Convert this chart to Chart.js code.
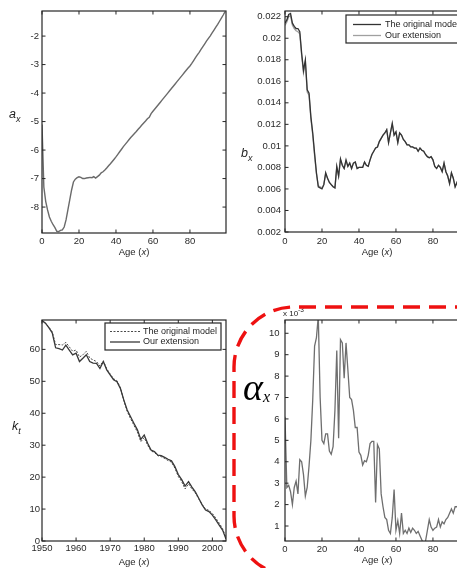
<!DOCTYPE html>
<html><head><meta charset="utf-8">
<script src="https://cdn.jsdelivr.net/npm/chart.js@4/dist/chart.umd.min.js"></script>
<style>
html,body{margin:0;padding:0;background:#fff;overflow:hidden;width:457px;height:568px}
#wrap{position:relative;width:457px;height:568px;overflow:hidden;background:#fff}
canvas{position:absolute}
</style></head><body><div id="wrap">
<canvas id="c1" width="240" height="265" style="left:0px;top:0px"></canvas>
<canvas id="c2" width="250" height="265" style="left:228px;top:0px"></canvas>
<canvas id="c3" width="240" height="268" style="left:0px;top:300px"></canvas>
<canvas id="c4" width="250" height="268" style="left:228px;top:300px"></canvas>
</div>
<script>
// ---------------- DATA ----------------
const ages = [0,1,2,3,4,5,6,7,8,9,10,11,12,13,14,15,16,17,18,19,20,21,22,23,24,25,26,27,28,29,30,31,32,33,34,35,36,37,38,39,40,41,42,43,44,45,46,47,48,49,50,51,52,53,54,55,56,57,58,59,60,61,62,63,64,65,66,67,68,69,70,71,72,73,74,75,76,77,78,79,80,81,82,83,84,85,86,87,88,89,90,91,92,93,94,95,96,97,98,99];
const axValues = [-5.1,-7.3,-7.8,-8.1,-8.35,-8.5,-8.62,-8.72,-8.85,-8.86,-8.82,-8.8,-8.7,-8.45,-8.1,-7.75,-7.4,-7.12,-7.02,-6.97,-6.94,-6.96,-7.0,-7.0,-6.98,-6.97,-6.96,-6.97,-6.93,-6.98,-6.93,-6.88,-6.8,-6.76,-6.7,-6.63,-6.55,-6.48,-6.4,-6.32,-6.24,-6.15,-6.06,-5.97,-5.88,-5.8,-5.72,-5.64,-5.56,-5.49,-5.42,-5.35,-5.27,-5.2,-5.12,-5.05,-4.98,-4.9,-4.85,-4.72,-4.64,-4.56,-4.48,-4.4,-4.32,-4.24,-4.16,-4.08,-4.0,-3.92,-3.84,-3.76,-3.68,-3.6,-3.52,-3.44,-3.36,-3.28,-3.2,-3.12,-3.05,-2.96,-2.86,-2.76,-2.66,-2.57,-2.47,-2.37,-2.27,-2.17,-2.08,-1.99,-1.89,-1.79,-1.69,-1.59,-1.48,-1.37,-1.26,-1.14];
const bxOriginal = [0.0214,0.0217,0.0222,0.0223,0.0214,0.0211,0.0209,0.0209,0.0206,0.0186,0.0170,0.0180,0.0152,0.0149,0.0127,0.0112,0.0093,0.0075,0.0062,0.0061,0.0060,0.0064,0.0075,0.0070,0.0066,0.0064,0.0062,0.0061,0.0081,0.0072,0.0088,0.0082,0.0079,0.0087,0.0081,0.0084,0.0079,0.0084,0.0085,0.0079,0.0080,0.0080,0.0080,0.0085,0.0082,0.0081,0.0087,0.0092,0.0095,0.0098,0.0099,0.0104,0.0107,0.0110,0.0112,0.0115,0.0103,0.0112,0.0121,0.0110,0.0113,0.0103,0.0112,0.0110,0.0106,0.0104,0.0101,0.0101,0.0099,0.0099,0.0098,0.0098,0.0095,0.0098,0.0096,0.0095,0.0092,0.0090,0.0089,0.0090,0.0087,0.0081,0.0079,0.0082,0.0080,0.0076,0.0084,0.0076,0.0072,0.0065,0.0075,0.0070,0.0062,0.0066,0.0060,0.0058,0.0055,0.0050,0.0047,0.0044];
const bxExtension = [0.0212,0.0215,0.0220,0.0221,0.0212,0.0209,0.0207,0.0206,0.0204,0.0184,0.0168,0.0178,0.0150,0.0147,0.0125,0.0110,0.0091,0.0074,0.0063,0.0062,0.0061,0.0064,0.0074,0.0070,0.0066,0.0064,0.0062,0.0061,0.0080,0.0072,0.0087,0.0082,0.0079,0.0086,0.0081,0.0084,0.0079,0.0084,0.0085,0.0079,0.0080,0.0080,0.0080,0.0085,0.0082,0.0081,0.0087,0.0092,0.0095,0.0098,0.0099,0.0104,0.0107,0.0110,0.0112,0.0115,0.0103,0.0112,0.0120,0.0110,0.0113,0.0103,0.0112,0.0110,0.0106,0.0104,0.0101,0.0101,0.0099,0.0099,0.0098,0.0098,0.0095,0.0098,0.0096,0.0095,0.0092,0.0090,0.0089,0.0090,0.0087,0.0081,0.0079,0.0082,0.0080,0.0076,0.0084,0.0076,0.0072,0.0065,0.0075,0.0070,0.0062,0.0066,0.0060,0.0058,0.0055,0.0050,0.0047,0.0044];
const years = [1950,1951,1952,1953,1954,1955,1956,1957,1958,1959,1960,1961,1962,1963,1964,1965,1966,1967,1968,1969,1970,1971,1972,1973,1974,1975,1976,1977,1978,1979,1980,1981,1982,1983,1984,1985,1986,1987,1988,1989,1990,1991,1992,1993,1994,1995,1996,1997,1998,1999,2000,2001,2002,2003,2004];
const ktOriginal = [69.2,68.3,67.0,65.5,61.5,61.5,61.4,62.2,60.8,59.4,59.8,57.6,58.3,59.4,57.3,56.7,56.2,54.8,56.4,53.9,52.3,50.8,50.2,48.0,44.0,40.6,38.3,36.2,34.1,31.1,32.4,30.0,28.2,27.7,26.7,26.4,25.8,25.2,24.7,22.8,20.2,18.6,16.3,17.9,16.3,15.0,13.2,11.4,10.0,9.6,8.6,7.2,5.6,3.9,0.8];
const ktExtension = [69.0,68.2,66.8,65.2,60.5,60.2,59.8,61.3,59.8,58.3,58.8,56.2,57.2,58.3,56.2,55.7,55.6,54.0,56.2,53.6,52.0,50.5,49.9,47.8,44.2,41.0,38.9,36.8,34.8,31.8,33.2,30.6,28.5,28.0,26.9,26.7,26.2,25.6,25.1,23.3,20.8,19.2,17.2,18.6,16.9,15.4,13.4,11.3,9.7,9.2,8.1,6.6,5.0,3.4,0.6];
const alphaValues = [6.1,2.8,2.9,2.6,2.0,2.8,3.1,2.5,4.1,4.0,3.4,2.4,2.8,3.8,5.0,6.9,9.4,9.8,10.8,7.0,5.0,4.85,5.3,5.3,4.5,4.35,4.7,6.4,9.2,5.1,9.7,9.55,7.9,9.55,8.3,7.0,6.9,6.4,5.6,5.6,4.45,4.3,3.85,4.05,4.0,4.3,4.85,4.95,4.95,2.1,4.8,4.6,2.5,1.9,1.4,1.3,0.8,0.65,1.4,2.7,0.8,1.25,0.65,1.6,0.65,0.8,0.65,0.9,0.7,0.9,0.8,0.65,0.75,0.55,0.35,0.15,0.3,0.8,1.3,0.95,0.8,0.9,0.95,1.3,0.95,1.2,1.1,1.3,1.4,1.6,1.8,1.6,1.9,1.9,2.0,1.85,2.1,2.3,2.2,2.5];
const ageTicks = [0,20,40,60,80];
const axTicks = [-8,-7,-6,-5,-4,-3,-2];
const bxTicks = [0.002,0.004,0.006,0.008,0.01,0.012,0.014,0.016,0.018,0.02,0.022];
const yearTicks = [1950,1960,1970,1980,1990,2000];
const ktTicks = [0,10,20,30,40,50,60];
const alphaTicks = [1,2,3,4,5,6,7,8,9,10];
const legendLabels = ['The original model','Our extension'];

// ---------------- HELPERS ----------------
const FONT = '"Liberation Sans", Arial, Helvetica, sans-serif';
const SERIF = '"Liberation Serif", "Times New Roman", serif';
const TICK = '#2a2a2a';
function pts(xs, ys){ return xs.map((x,i)=>({x:x, y:ys[i]})); }

function drawRich(ctx, parts, x, y, align){
  let w = 0;
  parts.forEach(p=>{ ctx.font = (p.italic?'italic ':'') + p.size + 'px ' + (p.family||FONT); p.w = ctx.measureText(p.t).width; w += p.w; });
  let cx = align === 'center' ? x - w/2 : x;
  parts.forEach(p=>{ ctx.font = (p.italic?'italic ':'') + p.size + 'px ' + (p.family||FONT); ctx.fillText(p.t, cx, y + (p.dy||0)); cx += p.w; });
}

function framePlugin(spec){
  return {
    id: 'frame_' + spec.name,
    afterDatasetsDraw(chart){
      const ctx = chart.ctx, a = chart.chartArea, xs = chart.scales.x, ys = chart.scales.y;
      ctx.save();
      ctx.strokeStyle = '#262626'; ctx.lineWidth = 1.2;
      ctx.strokeRect(a.left, a.top, a.right - a.left, a.bottom - a.top);
      ctx.lineWidth = 1;
      ctx.beginPath();
      xs.ticks.forEach(t=>{ const p = xs.getPixelForValue(t.value);
        ctx.moveTo(p, a.bottom); ctx.lineTo(p, a.bottom - 3.5);
        ctx.moveTo(p, a.top); ctx.lineTo(p, a.top + 3.5); });
      ys.ticks.forEach(t=>{ const p = ys.getPixelForValue(t.value);
        ctx.moveTo(a.left, p); ctx.lineTo(a.left + 3.5, p);
        ctx.moveTo(a.right, p); ctx.lineTo(a.right - 3.5, p); });
      ctx.stroke();
      ctx.fillStyle = '#1e1e1e'; ctx.textBaseline = 'alphabetic'; ctx.textAlign = 'left';
      if (spec.ylabel){
        drawRich(ctx, [{t:spec.ylabel[0], italic:true, size:12.5},{t:spec.ylabel[1], italic:true, size:9, dy:3.5}], spec.ylabelX, spec.ylabelY, 'left');
      }
      ctx.textBaseline = 'middle';
      drawRich(ctx, [{t:'Age (', size:9.5},{t:'x', italic:true, size:9.5},{t:')', size:9.5}], (a.left + a.right)/2, spec.xlabelY, 'center');
      if (spec.legend){
        const L = spec.legend;
        const x2 = Math.min(L.x2, a.right - 2);
        ctx.fillStyle = '#fff'; ctx.fillRect(L.x1, L.y1, x2 - L.x1, L.y2 - L.y1);
        ctx.strokeStyle = '#262626'; ctx.lineWidth = 1.2;
        ctx.strokeRect(L.x1, L.y1, x2 - L.x1, L.y2 - L.y1);
        L.rows.forEach((r,i)=>{
          const ds = chart.data.datasets[r.ds];
          ctx.save();
          ctx.strokeStyle = ds.borderColor; ctx.lineWidth = ds.borderWidth; ctx.setLineDash(ds.borderDash || []);
          ctx.beginPath(); ctx.moveTo(L.lx1, r.y); ctx.lineTo(L.lx2, r.y); ctx.stroke();
          ctx.restore();
          ctx.fillStyle = '#1e1e1e'; ctx.textBaseline = 'middle'; ctx.textAlign = 'left';
          ctx.font = '9px ' + FONT;
          ctx.fillText(legendLabels[i], L.tx, r.y);
        });
      }
      ctx.restore();
    }
  };
}

function makeChart(id, cfg, extraPlugins){
  return new Chart(document.getElementById(id), {
    type: 'line',
    data: { datasets: cfg.datasets },
    options: {
      responsive: false, animation: false, devicePixelRatio: 1,
      layout: { padding: cfg.padding },
      plugins: { legend: { display: false }, tooltip: { enabled: false } },
      elements: { point: { radius: 0 }, line: { tension: 0 } },
      scales: {
        x: { type: 'linear', min: cfg.xMin, max: cfg.xMax,
          grid: { display: false, drawTicks: false }, border: { display: false },
          afterBuildTicks: s => { s.ticks = cfg.xTicks.map(v => ({ value: v })); },
          afterFit: s => { s.height = cfg.xH; },
          ticks: { padding: cfg.xPad, color: TICK, font: { family: FONT, size: 9.5 }, maxRotation: 0, autoSkip: false, callback: v => String(v) } },
        y: { type: 'linear', min: cfg.yMin, max: cfg.yMax,
          grid: { display: false, drawTicks: false }, border: { display: false },
          afterBuildTicks: s => { s.ticks = cfg.yTicks.map(v => ({ value: v })); },
          afterFit: s => { s.width = cfg.yW; },
          ticks: { padding: cfg.yPad, color: TICK, font: { family: FONT, size: 9.5 }, autoSkip: false, callback: cfg.yFmt || (v => String(v)) } }
      }
    },
    plugins: [framePlugin(cfg.frame)].concat(extraPlugins || [])
  });
}

// ---------------- TOP-LEFT: a_x ----------------
makeChart('c1', {
  datasets: [{ data: pts(ages, axValues), borderColor: '#6a6a6a', borderWidth: 1.4, fill: false }],
  padding: { top: 11, right: 14, left: 0, bottom: 0 },
  xMin: 0, xMax: 99.5, yMin: -8.91, yMax: -1.12,
  xTicks: ageTicks, yTicks: axTicks, xH: 32, yW: 42, xPad: 3, yPad: 3,
  frame: { name: 'a', ylabel: ['a','x'], ylabelX: 9, ylabelY: 118, xlabelY: 252 }
});

// ---------------- TOP-RIGHT: b_x ----------------
makeChart('c2', {
  datasets: [
    { data: pts(ages, bxOriginal), borderColor: '#333333', borderWidth: 1.3, fill: false, order: 1 },
    { data: pts(ages, bxExtension), borderColor: '#a0a0a0', borderWidth: 1.3, fill: false, order: 2 }
  ],
  padding: { top: 11, right: 9, left: 0, bottom: 0 },
  xMin: 0, xMax: 99.5, yMin: 0.002, yMax: 0.02253,
  xTicks: ageTicks, yTicks: bxTicks, xH: 33, yW: 57, xPad: 4, yPad: 4,
  yFmt: v => String(Math.round(v * 1000) / 1000),
  frame: { name: 'b', ylabel: ['b','x'], ylabelX: 13, ylabelY: 157, xlabelY: 252,
    legend: { x1: 118, y1: 15, x2: 260, y2: 43, lx1: 125, lx2: 153, tx: 157, rows: [{ ds: 0, y: 24.5 }, { ds: 1, y: 35.5 }] } }
});

// ---------------- BOTTOM-LEFT: k_t ----------------
makeChart('c3', {
  datasets: [
    { data: pts(years, ktOriginal), borderColor: '#4a4a4a', borderWidth: 1, borderDash: [2, 1.5], fill: false, order: 2 },
    { data: pts(years, ktExtension), borderColor: '#383838', borderWidth: 1.3, fill: false, order: 1 }
  ],
  padding: { top: 20, right: 14, left: 0, bottom: 0 },
  xMin: 1950, xMax: 2004, yMin: 0, yMax: 69.2,
  xTicks: yearTicks, yTicks: ktTicks, xH: 27, yW: 42, xPad: 1.8, yPad: 2,
  frame: { name: 'k', ylabel: ['k','t'], ylabelX: 12, ylabelY: 130, xlabelY: 262,
    legend: { x1: 105, y1: 23, x2: 221, y2: 50, lx1: 110, lx2: 140, tx: 143, rows: [{ ds: 0, y: 31.5 }, { ds: 1, y: 42 }] } }
});

// ---------------- BOTTOM-RIGHT: alpha_x ----------------
const overlay = {
  id: 'alphaOverlay',
  afterDraw(chart){
    const ctx = chart.ctx, a = chart.chartArea;
    ctx.save();
    ctx.fillStyle = '#1e1e1e'; ctx.textBaseline = 'alphabetic';
    drawRich(ctx, [{ t: 'x 10', size: 8 }, { t: '-3', size: 6.5, dy: -4 }], a.left - 2, a.top - 4.5, 'left');
    // red dashed rounded frame
    const L = 6, T = 7, B = 276, R = 60, FAR = 400;
    ctx.strokeStyle = '#ee1111'; ctx.lineWidth = 3.4; ctx.setLineDash([17, 9]);
    ctx.beginPath();
    ctx.moveTo(FAR, T);
    ctx.lineTo(L + R, T);
    ctx.arcTo(L, T, L, T + R, R);
    ctx.lineTo(L, B - R);
    ctx.arcTo(L, B, L + R, B, R);
    ctx.lineTo(FAR, B);
    ctx.stroke();
    ctx.setLineDash([]);
    ctx.fillStyle = '#000';
    drawRich(ctx, [{ t: 'α', italic: true, size: 38, family: SERIF }, { t: 'x', italic: true, size: 16, family: SERIF, dy: 2 }], 15, 100, 'left');
    ctx.restore();
  }
};
makeChart('c4', {
  datasets: [{ data: pts(ages, alphaValues), borderColor: '#6e6e6e', borderWidth: 1.3, fill: false }],
  padding: { top: 20, right: 9, left: 0, bottom: 0 },
  xMin: 0, xMax: 99.5, yMin: 0.3, yMax: 10.62,
  xTicks: ageTicks, yTicks: alphaTicks, xH: 27, yW: 57, xPad: 2.3, yPad: 5.5,
  frame: { name: 'al', xlabelY: 260 }
}, [overlay]);
</script>
</body></html>
